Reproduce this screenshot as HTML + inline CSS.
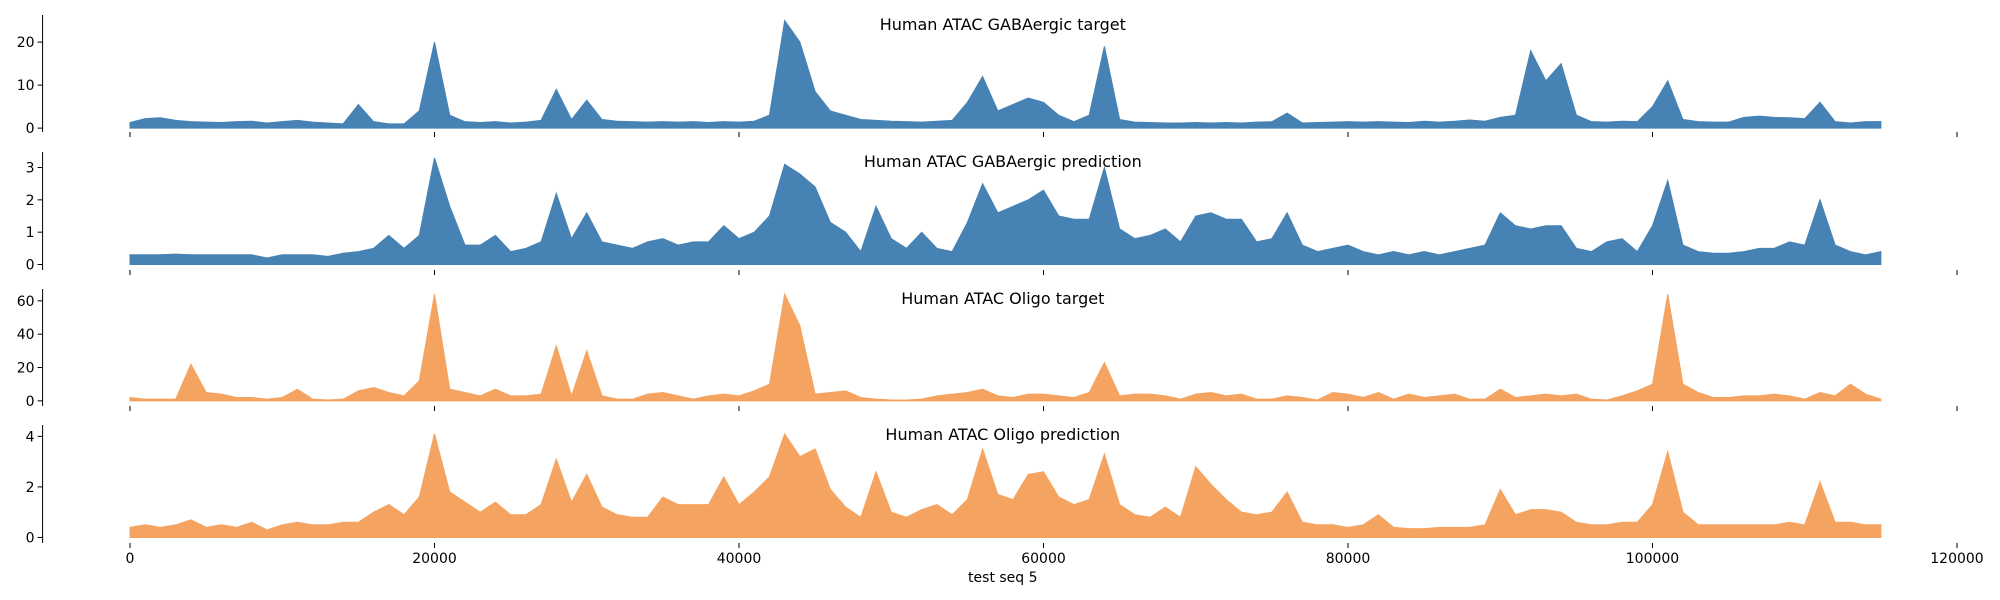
<!DOCTYPE html>
<html><head><meta charset="utf-8">
<style>
html,body{margin:0;padding:0;background:#fff;}
svg{display:block;font-family:"DejaVu Sans","Liberation Sans",sans-serif;}
</style></head>
<body>
<svg id="chart" width="2000" height="600" viewBox="0 0 2000 600"></svg>
<script>
const positions = [];
for (let i = 0; i <= 115; i++) positions.push(i * 1000);
const gabaTarget = [1.3,2.2,2.4,1.8,1.5,1.4,1.3,1.5,1.6,1.2,1.5,1.8,1.4,1.2,1.0,5.5,1.5,1.0,1.0,4.0,20,3.0,1.5,1.3,1.5,1.2,1.4,1.8,9,2.0,6.5,2.0,1.6,1.5,1.4,1.5,1.4,1.5,1.3,1.5,1.4,1.6,3.0,25,20,8.5,4.0,3.0,2.0,1.8,1.6,1.5,1.4,1.6,1.8,6,12,4.0,5.5,7.0,6.0,3.0,1.5,3.0,19,2.0,1.4,1.3,1.2,1.2,1.3,1.2,1.3,1.2,1.4,1.5,3.5,1.2,1.3,1.4,1.5,1.4,1.5,1.4,1.3,1.6,1.4,1.6,1.9,1.6,2.5,3.0,18,11,15,3.0,1.5,1.4,1.6,1.5,5.0,11,2.0,1.5,1.4,1.4,2.5,2.8,2.5,2.4,2.2,6,1.5,1.2,1.5,1.5];
const gabaPred = [0.3,0.3,0.3,0.32,0.3,0.3,0.3,0.3,0.3,0.2,0.3,0.3,0.3,0.25,0.35,0.4,0.5,0.9,0.5,0.9,3.3,1.8,0.6,0.6,0.9,0.4,0.5,0.7,2.2,0.8,1.6,0.7,0.6,0.5,0.7,0.8,0.6,0.7,0.7,1.2,0.8,1.0,1.5,3.1,2.8,2.4,1.3,1.0,0.4,1.8,0.8,0.5,1.0,0.5,0.4,1.3,2.5,1.6,1.8,2.0,2.3,1.5,1.4,1.4,3.0,1.1,0.8,0.9,1.1,0.7,1.5,1.6,1.4,1.4,0.7,0.8,1.6,0.6,0.4,0.5,0.6,0.4,0.3,0.4,0.3,0.4,0.3,0.4,0.5,0.6,1.6,1.2,1.1,1.2,1.2,0.5,0.4,0.7,0.8,0.4,1.2,2.6,0.6,0.4,0.35,0.35,0.4,0.5,0.5,0.7,0.6,2.0,0.6,0.4,0.3,0.4];
const oligoTarget = [2,1,1,1,22,5,4,2,2,1,2,7,1,0.5,1,6,8,5,3,12,64,7,5,3,7,3,3,4,33,3,30,3,1,1,4,5,3,1,3,4,3,6,10,64,45,4,5,6,2,1,0.5,0.5,1,3,4,5,7,3,2,4,4,3,2,5,23,3,4,4,3,1,4,5,3,4,1,1,3,2,0.5,5,4,2,5,1,4,2,3,4,1,1,7,2,3,4,3,4,1,0.5,3,6,10,64,10,5,2,2,3,3,4,3,1,5,3,10,4,1];
const oligoPred = [0.4,0.5,0.4,0.5,0.7,0.4,0.5,0.4,0.6,0.3,0.5,0.6,0.5,0.5,0.6,0.6,1.0,1.3,0.9,1.6,4.1,1.8,1.4,1.0,1.4,0.9,0.9,1.3,3.1,1.4,2.5,1.2,0.9,0.8,0.8,1.6,1.3,1.3,1.3,2.4,1.3,1.8,2.4,4.1,3.2,3.5,1.9,1.2,0.8,2.6,1.0,0.8,1.1,1.3,0.9,1.5,3.5,1.7,1.5,2.5,2.6,1.6,1.3,1.5,3.3,1.3,0.9,0.8,1.2,0.8,2.8,2.1,1.5,1.0,0.9,1.0,1.8,0.6,0.5,0.5,0.4,0.5,0.9,0.4,0.35,0.35,0.4,0.4,0.4,0.5,1.9,0.9,1.1,1.1,1.0,0.6,0.5,0.5,0.6,0.6,1.3,3.4,1.0,0.5,0.5,0.5,0.5,0.5,0.5,0.6,0.5,2.2,0.6,0.6,0.5,0.5];
const panelTitles = ["Human ATAC GABAergic target","Human ATAC GABAergic prediction","Human ATAC Oligo target","Human ATAC Oligo prediction"];
const yTicks1 = [0,10,20];
const yTicks2 = [0,1,2,3];
const yTicks3 = [0,20,40,60];
const yTicks4 = [0,2,4];
const xTicks = [0,20000,40000,60000,80000,100000,120000];

const NS = "http://www.w3.org/2000/svg";
const svg = document.getElementById('chart');
function mk(tag, attrs, parent){ const e=document.createElementNS(NS,tag); for(const k in attrs) e.setAttribute(k,attrs[k]); (parent||svg).appendChild(e); return e; }

const xLeft=42.6, xRight=1963;
function xs(v){ return 130 + v*1827/120000; }

const panels = [
 {data:gabaTarget, ticks:yTicks1, top:15, bottom:132, lo:-0.9, hi:26.3, color:'#4682b4', clip:null, name:'gaba-target'},
 {data:gabaPred, ticks:yTicks2, top:152, bottom:270, lo:-0.17, hi:3.48, color:'#4682b4', clip:null, name:'gaba-prediction'},
 {data:oligoTarget, ticks:yTicks3, top:289, bottom:406, lo:-3.1, hi:67.1, color:'#f4a460', clip:64, name:'oligo-target'},
 {data:oligoPred, ticks:yTicks4, top:425, bottom:543, lo:-0.22, hi:4.45, color:'#f4a460', clip:null, name:'oligo-prediction'}
];

panels.forEach((p, pi) => {
  const g = mk('g', {});
  
  
  const ys = v => p.bottom - (v - p.lo)/(p.hi - p.lo)*(p.bottom - p.top);
  let d = 'M' + xs(positions[0]) + ',' + ys(0);
  p.data.forEach((v,i) => { const vv = p.clip!==null ? Math.min(v,p.clip) : v; d += ' L' + xs(positions[i]).toFixed(2) + ',' + ys(vv).toFixed(2); });
  d += ' L' + xs(positions[positions.length-1]) + ',' + ys(0) + ' Z';
  const area = mk('path', {d:d, fill:p.color, stroke:p.color, 'stroke-width':1}, g);
  
  
  const spine = mk('line', {x1:xLeft, x2:xLeft, y1:p.top, y2:p.bottom, stroke:'#000', 'stroke-width':1}, g);
  
  
  p.ticks.forEach(t => {
    const y = ys(t);
    mk('line', {x1:xLeft-5, x2:xLeft, y1:y, y2:y, stroke:'#000', 'stroke-width':1}, g);
    const tx = mk('text', {x:xLeft-8, y:y+5, 'text-anchor':'end', 'font-size':14, fill:'#000'}, g);
    
    
    tx.textContent = t;
  });
  xTicks.forEach(t => {
    const x = xs(t);
    mk('line', {x1:x, x2:x, y1:p.bottom, y2:p.bottom+5, stroke:'#000', 'stroke-width':1}, g);
    if (pi === 3) {
      const tx = mk('text', {x:x, y:p.bottom+20, 'text-anchor':'middle', 'font-size':14, fill:'#000'}, g);
      
      
      tx.textContent = t;
    }
  });
  const title = mk('text', {x:(xLeft+xRight)/2, y:p.top+15, 'text-anchor':'middle', 'font-size':16, fill:'#000'}, g);
  
  
  title.textContent = panelTitles[pi];
});
const xl = mk('text', {x:(xLeft+xRight)/2, y:582, 'text-anchor':'middle', 'font-size':14, fill:'#000'});


xl.textContent = 'test seq 5';
</script>
</body></html>
